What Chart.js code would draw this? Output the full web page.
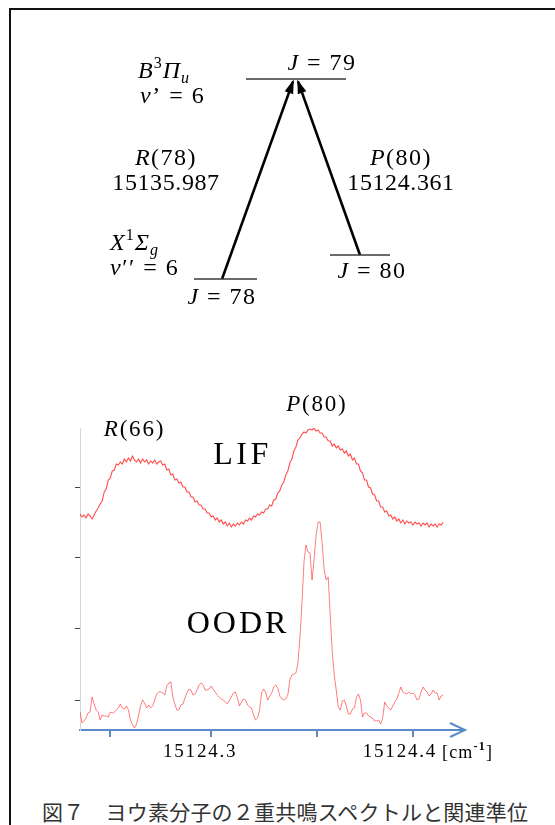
<!DOCTYPE html>
<html>
<head>
<meta charset="utf-8">
<script src="https://cdn.jsdelivr.net/npm/chart.js@4/dist/chart.umd.min.js"></script>
<style>
  body { margin: 0; background: #fff; width: 555px; height: 825px; overflow: hidden; position: relative; }
  #frame { position: absolute; left: 9px; top: 8px; right: 0; bottom: 0; border-left: 2px solid #111; border-top: 2px solid #111; }
  #levels { position: absolute; left: 0; top: 0; }
  #spectrum { position: absolute; left: 0; top: 380px; }
  #caption { position: absolute; left: 42px; top: 799px; font-size: 21px; line-height: 24px; letter-spacing: 0.2px;
             font-family: "Noto Sans CJK JP"; color: #333; white-space: nowrap; }
</style>
</head>
<body>
<div id="frame"></div>
<canvas id="levels" width="555" height="380"></canvas>
<canvas id="spectrum" width="555" height="400"></canvas>
<div id="caption">図７　ヨウ素分子の２重共鳴スペクトルと関連準位</div>

<script>
// ---- energy level diagram (arbitrary units) ----
const levelLabels = ['J = 79', 'J = 78', 'J = 80'];
const levelEnergy = [10, 0, 1.2];
const levelFrom = [24.6, 19.4, 33.0];
const levelTo = [34.6, 25.7, 39.0];

const transNames = ['R(78)', 'P(80)'];
const transWave = ['15135.987', '15124.361'];
const transLower = [1, 2];          // index into levels
const transLowX = [22.2, 36.0];
const transTopX = [29.3, 29.8];
const transTipE = [9.88, 9.88];

// ---- spectrum: x in 10^-3 cm-1 above 15124, y arbitrary ----
const relWave = [
  235,236,237,238,239,240,241,242,243,244,245,246,247,248,249,250,251,252,253,254,
  255,256,257,258,259,260,261,262,263,264,265,266,267,268,269,270,271,272,273,274,
  275,276,277,278,279,280,281,282,283,284,285,286,287,288,289,290,291,292,293,294,
  295,296,297,298,299,300,301,302,303,304,305,306,307,308,309,310,311,312,313,314,
  315,316,317,318,319,320,321,322,323,324,325,326,327,328,329,330,331,332,333,334,
  335,336,337,338,339,340,341,342,343,344,345,346,347,348,349,350,351,352,353,354,
  355,356,357,358,359,360,361,362,363,364,365,366,367,368,369,370,371,372,373,374,
  375,376,377,378,379,380,381,382,383,384,385,386,387,388,389,390,391,392,393,394,
  395,396,397,398,399,400,401,402,403,404,405,406,407,408,409,410,411,412,413,414,
  415
];
const lifSignal = [
  216,213,215,212,216,214,211,215,219,222, 226,229,238,241,250,252,259,260,266,265,
  268,266,271,268,272,269,274,270,268,271, 267,271,268,270,266,269,267,270,266,268,
  269,265,266,260,261,255,256,250,251,247, 248,243,243,238,238,233,233,228,229,225,
  225,221,221,217,217,213,214,210,212,208, 210,206,208,204,207,203,206,204,207,205,
  208,206,210,209,212,210,214,213,216,215, 218,217,221,221,225,224,230,231,237,239,
  245,248,255,259,267,271,279,283,290,292, 296,298,297,300,301,300,302,299,300,297,
  297,293,293,289,289,284,286,282,284,280, 281,277,279,274,276,270,272,266,266,259,
  257,250,250,243,242,236,235,229,229,223, 223,218,219,214,215,211,213,209,211,207,
  210,206,209,207,208,205,208,206,207,204, 207,205,207,203,206,204,206,203,206,205,
  208
];
const oodrSignal = [
  18,7,9,12,17,18,33,26,20,18, 10,15,14,14,13,18,17,18,20,22,
  26,22,21,24,20,10,5,2,6,14, 24,30,27,22,25,22,24,30,36,38,
  38,37,35,44,47,48,33,26,20,20, 25,26,32,37,41,40,35,36,40,45,
  47,45,40,40,41,44,41,38,35,33, 31,30,28,26,29,33,37,38,32,24,
  28,31,30,25,23,22,15,10,12,20, 37,41,38,30,34,37,43,45,42,34,
  31,30,31,35,50,55,56,57,67,93, 127,168,185,178,177,150,170,195,208,208,
  187,160,150,153,115,78,55,40,23,20, 29,30,24,16,16,21,22,33,36,30,
  13,17,17,14,13,12,9,9,10,6, 12,28,24,22,20,24,28,31,37,43,
  38,37,36,38,36,37,35,30,31,38, 43,40,38,34,36,40,37,37,30,34,
  35
];
const waveTicks = [250, 300, 352.5, 400];
const waveTickLabels = ['', '15124.3', '', '15124.4'];
const signalTicks = [30, 102, 173, 243];
const peakNames = ['R(66)', 'P(80)'];
const traceNames = ['LIF', 'OODR'];

const SERIF = '"Liberation Serif", "DejaVu Serif", serif';

// draw text made of parts (italic / superscript / subscript)
function drawRich(ctx, parts, x, y, align, size, spacing) {
  const items = parts.map(p => {
    const fs = (p.sup || p.sub) ? Math.round(size * 0.68) : size;
    const font = (p.it ? 'italic ' : '') + (p.b ? 'bold ' : '') + fs + 'px ' + SERIF;
    ctx.font = font;
    ctx.letterSpacing = (spacing || 0) + 'px';
    return { p, font, w: ctx.measureText(p.t).width };
  });
  const total = items.reduce((a, it) => a + it.w, 0);
  let cx = align === 'center' ? x - total / 2 : x;
  ctx.textAlign = 'left';
  ctx.textBaseline = 'middle';
  items.forEach(it => {
    ctx.font = it.font;
    ctx.letterSpacing = (spacing || 0) + 'px';
    const dy = it.p.sup ? -size * 0.36 : it.p.sub ? size * 0.3 : 0;
    ctx.fillText(it.p.t, cx, y + dy);
    cx += it.w;
  });
  ctx.letterSpacing = '0px';
}

// "J = 79" -> italic first letter
function italicHead(s) {
  const m = s.match(/^([A-Za-z])(.*)$/);
  return m ? [{ t: m[1], it: true }, { t: m[2] }] : [{ t: s }];
}

// ---- level diagram ----
const levelSets = levelLabels.map((name, i) => ({
  label: name,
  data: [{ x: levelFrom[i], y: levelEnergy[i] }, { x: levelTo[i], y: levelEnergy[i] }],
  borderColor: '#3a3a3a', borderWidth: 1.3
}));
const transSets = transNames.map((name, i) => ({
  label: name,
  data: [{ x: transLowX[i], y: levelEnergy[transLower[i]] }, { x: transTopX[i], y: transTipE[i] }],
  borderColor: '#000', borderWidth: 2.6
}));

const arrowHeads = {
  id: 'arrowHeads',
  afterDatasetsDraw(chart) {
    const ctx = chart.ctx;
    ctx.save();
    ctx.fillStyle = '#000';
    chart.data.datasets.forEach((ds, i) => {
      if (!transNames.includes(ds.label)) return;
      const pts = chart.getDatasetMeta(i).data;
      const a = Math.atan2(pts[1].y - pts[0].y, pts[1].x - pts[0].x);
      const tx = pts[1].x + Math.cos(a) * 2, ty = pts[1].y + Math.sin(a) * 2;
      const len = 14, half = 4.5;
      ctx.beginPath();
      ctx.moveTo(tx, ty);
      ctx.lineTo(tx - len * Math.cos(a) - half * Math.sin(a), ty - len * Math.sin(a) + half * Math.cos(a));
      ctx.lineTo(tx - len * Math.cos(a) + half * Math.sin(a), ty - len * Math.sin(a) - half * Math.cos(a));
      ctx.closePath();
      ctx.fill();
    });
    ctx.restore();
  }
};

const levelText = {
  id: 'levelText',
  afterDraw(chart) {
    const { ctx, scales: { x, y } } = chart;
    ctx.save();
    ctx.fillStyle = '#000';
    const at = (vx, vy) => [x.getPixelForValue(vx), y.getPixelForValue(vy)];
    let p;
    // state labels
    p = at(13.8, 10.35);
    drawRich(ctx, [{ t: 'B', it: true }, { t: '3', sup: true }, { t: 'Π', it: true }, { t: 'u', sub: true, it: true }], p[0], p[1], 'left', 24, 1);
    p = at(14.0, 9.1);
    drawRich(ctx, [{ t: 'v', it: true }, { t: '’ = 6' }], p[0], p[1], 'left', 24, 1.5);
    p = at(11.0, 1.75);
    drawRich(ctx, [{ t: 'X', it: true }, { t: '1', sup: true }, { t: 'Σ', it: true }, { t: 'g', sub: true, it: true }], p[0], p[1], 'left', 24, 1);
    p = at(11.0, 0.5);
    drawRich(ctx, [{ t: 'v', it: true }, { t: '′′ = 6' }], p[0], p[1], 'left', 24, 1.5);
    // level labels
    p = at(32.2, 10.75); drawRich(ctx, italicHead(levelLabels[0]), p[0], p[1], 'center', 24, 1.5);
    p = at(22.2, -0.95); drawRich(ctx, italicHead(levelLabels[1]), p[0], p[1], 'center', 24, 1.5);
    p = at(37.2, 0.35); drawRich(ctx, italicHead(levelLabels[2]), p[0], p[1], 'center', 24, 1.5);
    // transitions
    const tx = [16.6, 40.1];
    transNames.forEach((n, i) => {
      p = at(tx[i], 6.0); drawRich(ctx, italicHead(n), p[0], p[1], 'center', 24, 1.5);
      p = at(tx[i], 4.75); drawRich(ctx, [{ t: transWave[i] }], p[0], p[1], 'center', 24, 0.6);
    });
    ctx.restore();
  }
};

new Chart(document.getElementById('levels'), {
  type: 'scatter',
  data: { datasets: [...levelSets, ...transSets] },
  options: {
    responsive: false, animation: false, events: [],
    showLine: true,
    elements: { point: { radius: 0 }, line: { borderCapStyle: 'butt' } },
    layout: { padding: 0 },
    plugins: { legend: { display: false }, tooltip: { enabled: false } },
    scales: {
      x: { type: 'linear', display: false, min: 0, max: 55.5 },
      y: { type: 'linear', display: false, min: -5.05, max: 13.95 }
    }
  },
  plugins: [arrowHeads, levelText]
});

// ---- spectrum ----
const axisBlue = '#5b8bc9';

const spectrumText = {
  id: 'spectrumText',
  afterDraw(chart) {
    const { ctx, chartArea, scales: { x, y } } = chart;
    ctx.save();
    // arrow head at the end of the wavenumber axis
    ctx.strokeStyle = axisBlue;
    ctx.lineWidth = 2;
    ctx.beginPath();
    ctx.moveTo(chartArea.right - 15, chartArea.bottom - 7);
    ctx.lineTo(chartArea.right, chartArea.bottom);
    ctx.lineTo(chartArea.right - 15, chartArea.bottom + 7);
    ctx.stroke();

    ctx.fillStyle = '#000';
    // tick labels (set slightly left of their ticks, as in the original)
    const ly = chartArea.bottom + 22;
    const x3 = x.getPixelForValue(waveTicks[1]) - 11;
    drawRich(ctx, [{ t: waveTickLabels[1] }], x3, ly, 'center', 19, 1.8);
    const x4 = x.getPixelForValue(waveTicks[3]) - 13;
    drawRich(ctx, [{ t: waveTickLabels[3] }], x4, ly, 'center', 19, 1.8);
    drawRich(ctx, [{ t: '[cm' }, { t: '-1', sup: true, b: true }, { t: ']' }], x4 + 42, ly + 1, 'left', 18, 1.2);

    // peak labels
    let px = x.getPixelForValue(262), py = y.getPixelForValue(300);
    drawRich(ctx, italicHead(peakNames[0]), px, py, 'center', 23, 1.8);
    px = x.getPixelForValue(352.4); py = y.getPixelForValue(325);
    drawRich(ctx, italicHead(peakNames[1]), px, py, 'center', 23, 1.8);

    // trace names
    drawRich(ctx, [{ t: traceNames[0] }], x.getPixelForValue(315.5), y.getPixelForValue(274), 'center', 32, 3.5);
    drawRich(ctx, [{ t: traceNames[1] }], x.getPixelForValue(313.3), y.getPixelForValue(105), 'center', 32, 3);
    ctx.restore();
  }
};

new Chart(document.getElementById('spectrum'), {
  type: 'line',
  data: {
    labels: relWave,
    datasets: [
      { label: 'LIF', data: lifSignal, borderColor: 'rgba(255,0,0,0.7)', borderWidth: 1.1, pointRadius: 0, tension: 0 },
      { label: 'OODR', data: oodrSignal, borderColor: 'rgba(255,0,0,0.5)', borderWidth: 1, pointRadius: 0, tension: 0 }
    ]
  },
  options: {
    responsive: false, animation: false, events: [],
    layout: { padding: { left: 0, right: 90, top: 48, bottom: 0 } },
    plugins: { legend: { display: false }, tooltip: { enabled: false } },
    scales: {
      x: {
        type: 'linear', min: 235, max: 425.8,
        afterBuildTicks: s => { s.ticks = waveTicks.map(v => ({ value: v })); },
        afterFit: s => { s.height = 50; },
        ticks: { display: false },
        grid: { drawOnChartArea: false, color: axisBlue, lineWidth: 2, tickLength: 7 },
        border: { color: axisBlue, width: 2 }
      },
      y: {
        min: 0, max: 302,
        afterBuildTicks: s => { s.ticks = signalTicks.map(v => ({ value: v })); },
        afterFit: s => { s.width = 80; },
        ticks: { display: false },
        grid: { drawOnChartArea: false, color: '#444', lineWidth: 1, tickLength: 5 },
        border: { color: '#d6d6d6', width: 1 }
      }
    }
  },
  plugins: [spectrumText]
});
</script>
</body>
</html>
